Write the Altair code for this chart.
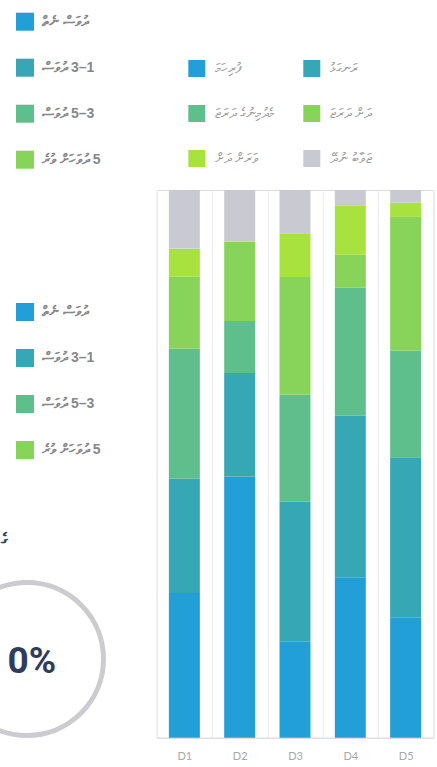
import altair as alt
import pandas as pd

# ---------------- data ----------------
days = ["D1", "D2", "D3", "D4", "D5"]
series = ["ފުރިހަމަ", "ރަނގަޅު", "މެދުމިނުގެ ދަރަޖަ", "ދަށް ދަރަޖަ", "ވަރަށް ދަށް", "ޖަވާބު ނުދޭ"]
colors = ["#239fd8", "#36a7b4", "#5ebf8c", "#88d45a", "#a8e23f", "#c9c9d1"]
s_blue = [26.4, 47.7, 17.5, 29.3, 21.9]
s_teal = [20.9, 18.9, 25.6, 29.5, 29.3]
s_green = [23.7, 9.5, 19.5, 23.4, 19.5]
s_lgreen = [13.2, 14.5, 21.5, 6.0, 24.4]
s_ygreen = [5.1, 0.0, 8.0, 8.9, 2.6]
s_gray = [10.7, 9.4, 7.9, 2.9, 2.3]

side_labels = ["ދުވަސް ނެތް", "ދުވަސް \u200e3–1", "ދުވަސް \u200e5–3", "ދުވަހަށް ވުރެ \u200e5"]
side_colors = ["#239fd8", "#36a7b4", "#5ebf8c", "#88d45a"]
ring_label = ["0%"]
cut_title = ["ގެ"]

# ---------------- tables ----------------
vals = [s_blue, s_teal, s_green, s_lgreen, s_ygreen, s_gray]
rows = []
for i, (name, v) in enumerate(zip(series, vals)):
    for d, x in zip(days, v):
        rows.append({"day": d, "cat": name, "idx": i, "val": x})
df = pd.DataFrame(rows)

# legend fills column by column (3 rows): reorder so rows read pairwise
leg_order = [0, 2, 4, 1, 3, 5]
leg_domain = [series[k] for k in leg_order]
leg_range = [colors[k] for k in leg_order]

W, H = 276.6, 547.7
PL, PT = 156.7, 190

bars = alt.Chart(df).mark_bar(width={"band": 0.56}).encode(
    x=alt.X("day:N", sort=days, title=None,
            scale=alt.Scale(paddingInner=0, paddingOuter=0),
            axis=alt.Axis(labelAngle=0, labelColor="#a8a8a8", labelFontSize=11,
                          labelFont="Lato", labelPadding=13, ticks=False,
                          grid=True, gridColor="#ececef", tickBand="extent",
                          domainColor="#dcdcdc")),
    y=alt.Y("val:Q", stack="normalize", axis=None,
            scale=alt.Scale(domain=[0, 1], nice=False)),
    color=alt.Color("cat:N",
                    scale=alt.Scale(domain=leg_domain, range=leg_range),
                    legend=alt.Legend(title=None, orient="none", columns=2,
                                      legendX=31.6, legendY=-130,
                                      symbolType="square", symbolSize=289,
                                      symbolStrokeWidth=0, symbolOpacity=1,
                                      labelFontSize=14,
                                      labelColor="#9c9c9c", labelOffset=10,
                                      rowPadding=28, columnPadding=29,
                                      padding=0)),
    order=alt.Order("idx:Q", sort="ascending"),
)


def side_legend(field, ly):
    d = pd.DataFrame({field: side_labels})
    return alt.Chart(d).mark_square(size=10, opacity=1, filled=True).encode(
        x=alt.value(-1000), y=alt.value(-1000),
        color=alt.Color(f"{field}:N", sort=side_labels,
                        scale=alt.Scale(domain=side_labels, range=side_colors),
                        legend=alt.Legend(title=None, orient="none",
                                          legendX=-140.7, legendY=ly,
                                          symbolType="square", symbolSize=324,
                                          symbolStrokeWidth=0, symbolOpacity=1,
                                          labelFontSize=14,
                                          labelColor="#888888", labelOffset=8,
                                          rowPadding=28, padding=0,
                                          labelFontWeight="bold")),
    )


leg1 = side_legend("a", -177.3)
leg2 = side_legend("b", 113)

ring = alt.Chart(pd.DataFrame({"t": ring_label})).mark_point(
    shape="circle", filled=False, size=23409, strokeWidth=5, color="#cbcbd0", opacity=1
).encode(x=alt.value(27 - PL), y=alt.value(659 - PT))

ring_text = alt.Chart(pd.DataFrame({"t": ring_label})).mark_text(
    align="right", baseline="middle", fontSize=37, fontWeight="bold",
    color="#2e3d5b", font="Roboto"
).encode(x=alt.value(56 - PL), y=alt.value(662 - PT), text="t:N")

title_text = alt.Chart(pd.DataFrame({"t": cut_title})).mark_text(
    align="left", baseline="middle", fontSize=16, fontWeight="bold",
    color="#2e3d5b"
).encode(x=alt.value(1 - PL), y=alt.value(540 - PT), text="t:N")

chart = alt.layer(bars, leg1, leg2, ring, ring_text, title_text).resolve_scale(
    color="independent"
).properties(
    width=W, height=H,
    padding={"left": PL, "top": PT, "right": 437 - PL - W, "bottom": 767 - PT - H},
    autosize=alt.AutoSizeParams(type="none"),
).configure_view(stroke=None).configure(background="white")

chart.save("out.html", embed_options={"renderer": "svg", "actions": False})
